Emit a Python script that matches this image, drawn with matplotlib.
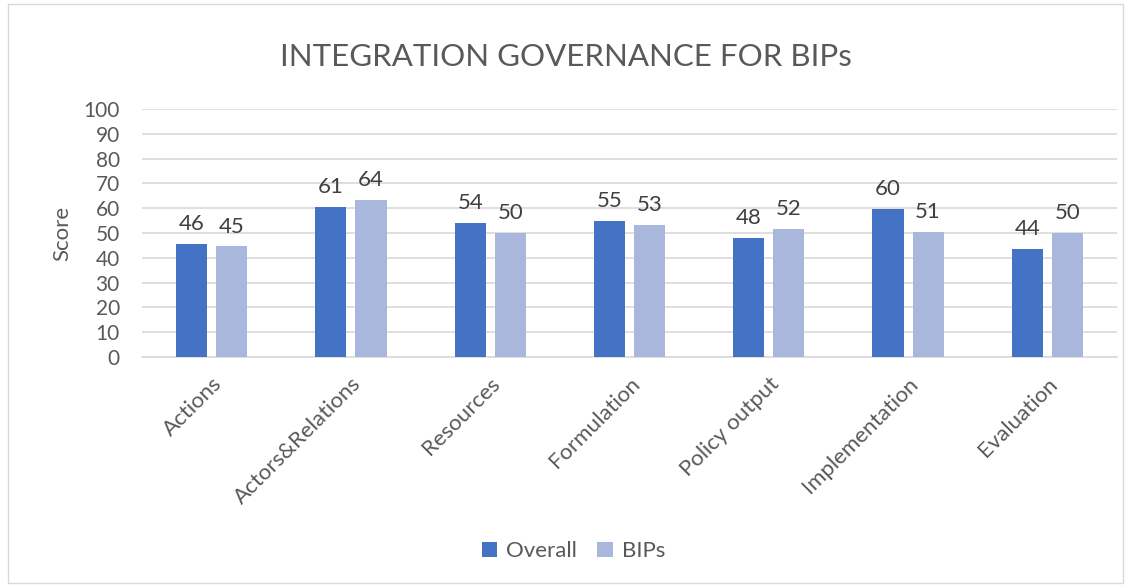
import matplotlib.pyplot as plt
import numpy as np
from matplotlib.patches import Rectangle

categories = ["Actions", "Actors&Relations", "Resources", "Formulation",
              "Policy output", "Implementation", "Evaluation"]
overall = [45.6, 60.6, 54.2, 54.8, 48.1, 59.7, 43.6]
bips = [44.6, 63.5, 50.1, 53.2, 51.7, 50.6, 50.0]

plt.rcParams['font.family'] = ['Lato', 'DejaVu Sans']
text_col = "#595959"

fig = plt.figure(figsize=(11.31, 5.85), dpi=100)
ax = fig.add_axes([0.1256, 0.3897, 0.862, 0.424])

x = np.arange(len(categories))
w = 0.223
off = 0.144
b1 = ax.bar(x - off, overall, w, color="#4472C4", label="Overall", zorder=3)
b2 = ax.bar(x + off, bips, w, color="#A9B7DC", label="BIPs", zorder=3)

# value labels
for bars in (b1, b2):
    ax.bar_label(bars, fmt="%.0f", padding=7, fontsize=16, color="#404040")

ax.set_xlim(-0.5, len(categories) - 0.5)
ax.set_ylim(0, 100)
ax.set_yticks(range(0, 101, 10))
ax.yaxis.grid(True, color="#D9D9D9", linewidth=1.2, zorder=0)
for s in ["top", "right", "left"]:
    ax.spines[s].set_visible(False)
ax.spines["bottom"].set_color("#D9D9D9")
ax.spines["bottom"].set_linewidth(1.2)
ax.tick_params(axis="both", length=0, labelsize=15, colors=text_col)
ax.tick_params(axis="y", pad=16)
ax.set_xticks(x)
ax.set_xticklabels(categories, rotation=45, ha="right", rotation_mode="anchor")
ax.tick_params(axis="x", pad=12, labelsize=16)
ax.set_ylabel("Score", fontsize=16, color=text_col, labelpad=8)

fig.text(0.5, 0.903, "INTEGRATION GOVERNANCE FOR BIPs", ha="center", va="center",
         fontsize=22.5, color=text_col)

leg = fig.legend(loc="center", bbox_to_anchor=(0.507, 0.058), ncol=2, frameon=False,
                 fontsize=16, handlelength=0.7, handleheight=0.7, columnspacing=0.9,
                 handletextpad=0.4)
for t in leg.get_texts():
    t.set_color(text_col)

# chart border
fig.patches.append(Rectangle((0.007, 0.003), 0.986, 0.99, transform=fig.transFigure,
                             fill=False, edgecolor="#D9D9D9", linewidth=1))

fig.savefig("out.png", dpi=100)
